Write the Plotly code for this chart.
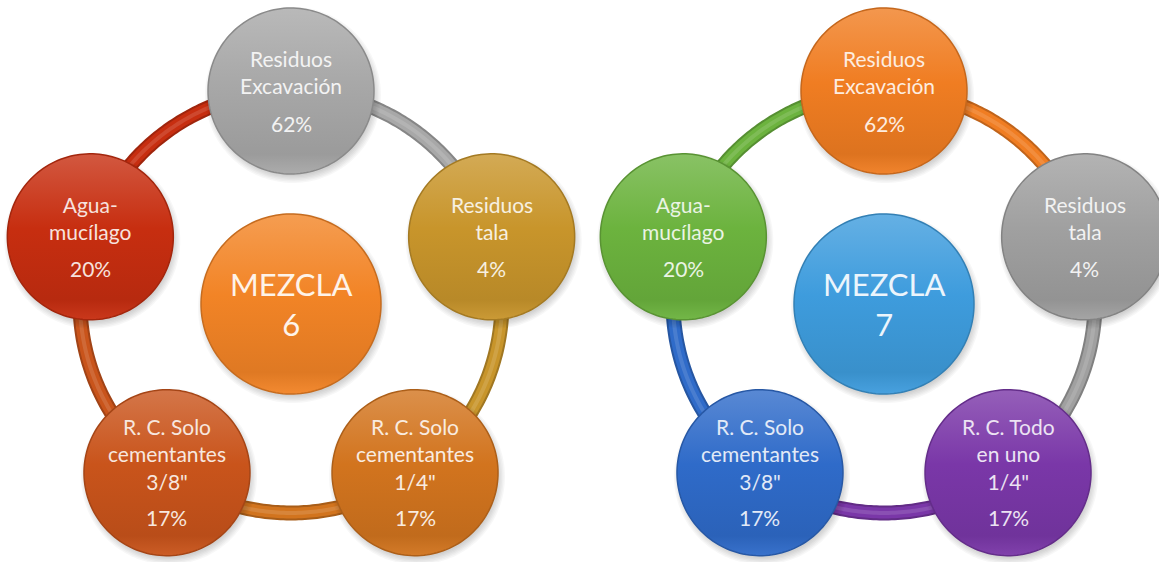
import numpy as np
import plotly.graph_objects as go

W, H = 1159, 562

# ---- MEZCLA 6 ----
m6_title = "MEZCLA<br>6"
m6_labels = ["Residuos<br>Excavación", "Residuos<br>tala",
             "R. C. Solo<br>cementantes<br>1/4\"", "R. C. Solo<br>cementantes<br>3/8\"",
             "Agua-<br>mucílago"]
m6_percent = [62, 4, 17, 17, 20]
m6_colors = ["#A8A8A8", "#C8952B", "#D2741E", "#C9541B", "#C72E10"]
m6_center_color = "#F28426"

# ---- MEZCLA 7 ----
m7_title = "MEZCLA<br>7"
m7_labels = ["Residuos<br>Excavación", "Residuos<br>tala",
             "R. C. Todo<br>en uno<br>1/4\"", "R. C. Solo<br>cementantes<br>3/8\"",
             "Agua-<br>mucílago"]
m7_percent = [62, 4, 17, 17, 20]
m7_colors = ["#F07D22", "#A0A0A0", "#7A37A8", "#2F6BC9", "#6CB33E"]
m7_center_color = "#3E9CDD"

FONT = "Lato, 'Open Sans', sans-serif"


def hex_rgb(c):
    c = c.lstrip("#")
    return np.array([int(c[i:i + 2], 16) for i in (0, 2, 4)], dtype=float)


def to_hex(v):
    v = np.clip(np.round(v), 0, 255).astype(int)
    return "#%02x%02x%02x" % tuple(v)


def lighten(c, f):
    v = hex_rgb(c)
    return to_hex(v + (255 - v) * f)


def darken(c, f):
    return to_hex(hex_rgb(c) * (1 - f))


fig = go.Figure()


def circle_xy(x0, y0, r, n=160):
    t = np.linspace(0, 2 * np.pi, n)
    return x0 + r * np.cos(t), y0 + r * np.sin(t)


def add_ball(x0, y0, r, color):
    # soft drop shadow
    for k in range(6):
        xs, ys = circle_xy(x0 + 2, y0 + 4, r - 2 + k * 1.4)
        fig.add_trace(go.Scatter(x=xs, y=ys, mode="lines", fill="toself",
                                 line=dict(width=0, simplify=False),
                                 fillcolor="rgba(0,0,0,0.03)", hoverinfo="skip"))
    xs, ys = circle_xy(x0, y0, r)
    fig.add_trace(go.Scatter(
        x=xs, y=ys, mode="lines", fill="toself",
        line=dict(width=1.5, color=darken(color, 0.18), simplify=False),
        fillgradient=dict(type="vertical", start=y0 - r, stop=y0 + r,
                          colorscale=[[0, lighten(color, 0.2)],
                                      [0.45, color],
                                      [0.88, darken(color, 0.08)],
                                      [1, lighten(color, 0.05)]]),
        hoverinfo="skip"))


def add_arc(cx, cy, R, a0, a1, color):
    t = np.radians(np.linspace(a0, a1, 90))
    xs = cx + R * np.sin(t)
    ys = cy - R * np.cos(t)
    for w, col, op in [(15, darken(color, 0.2), 1.0), (11, color, 1.0),
                       (4, lighten(color, 0.25), 0.5)]:
        fig.add_trace(go.Scatter(x=xs, y=ys, mode="lines",
                                 line=dict(width=w, color=col, simplify=False),
                                 opacity=op, hoverinfo="skip"))


def add_cycle(cx, cy, title, labels, percent, colors, center_color,
              R=211, r_node=83, r_center=90):
    n = len(labels)
    angles = [i * 360 / n for i in range(n)]
    # connecting ring, each segment in the colour of the node it leaves
    for i in range(n):
        add_arc(cx, cy, R, angles[i], angles[i] + 360 / n, colors[i])
    # central circle
    add_ball(cx, cy + 2, r_center, center_color)
    fig.add_annotation(x=cx, y=cy + 2, text=title, showarrow=False,
                       font=dict(family=FONT, size=31, color=lighten(center_color, 0.9)),
                       xanchor="center", yanchor="middle")
    # outer nodes
    lh, gap = 26, 12
    for i in range(n):
        a = np.radians(angles[i])
        x0 = cx + R * np.sin(a)
        y0 = cy - R * np.cos(a)
        add_ball(x0, y0, r_node, colors[i])
        nl = labels[i].count("<br>") + 1
        total = nl * lh + gap + lh
        top = y0 - total / 2
        tcol = lighten(colors[i], 0.86)
        fig.add_annotation(x=x0, y=top + nl * lh / 2, text=labels[i], showarrow=False,
                           font=dict(family=FONT, size=21, color=tcol),
                           xanchor="center", yanchor="middle")
        fig.add_annotation(x=x0, y=top + nl * lh + gap + lh / 2, text=f"{percent[i]}%",
                           showarrow=False, font=dict(family=FONT, size=21, color=tcol),
                           xanchor="center", yanchor="middle")


add_cycle(291, 302, m6_title, m6_labels, m6_percent, m6_colors, m6_center_color)
add_cycle(884, 302, m7_title, m7_labels, m7_percent, m7_colors, m7_center_color)

fig.update_layout(
    width=W, height=H, margin=dict(l=0, r=0, t=0, b=0),
    paper_bgcolor="white", plot_bgcolor="white", showlegend=False,
    xaxis=dict(range=[0, W], visible=False, fixedrange=True),
    yaxis=dict(range=[H, 0], visible=False, fixedrange=True),
)

fig.write_html("out.html", config={"displayModeBar": False})
